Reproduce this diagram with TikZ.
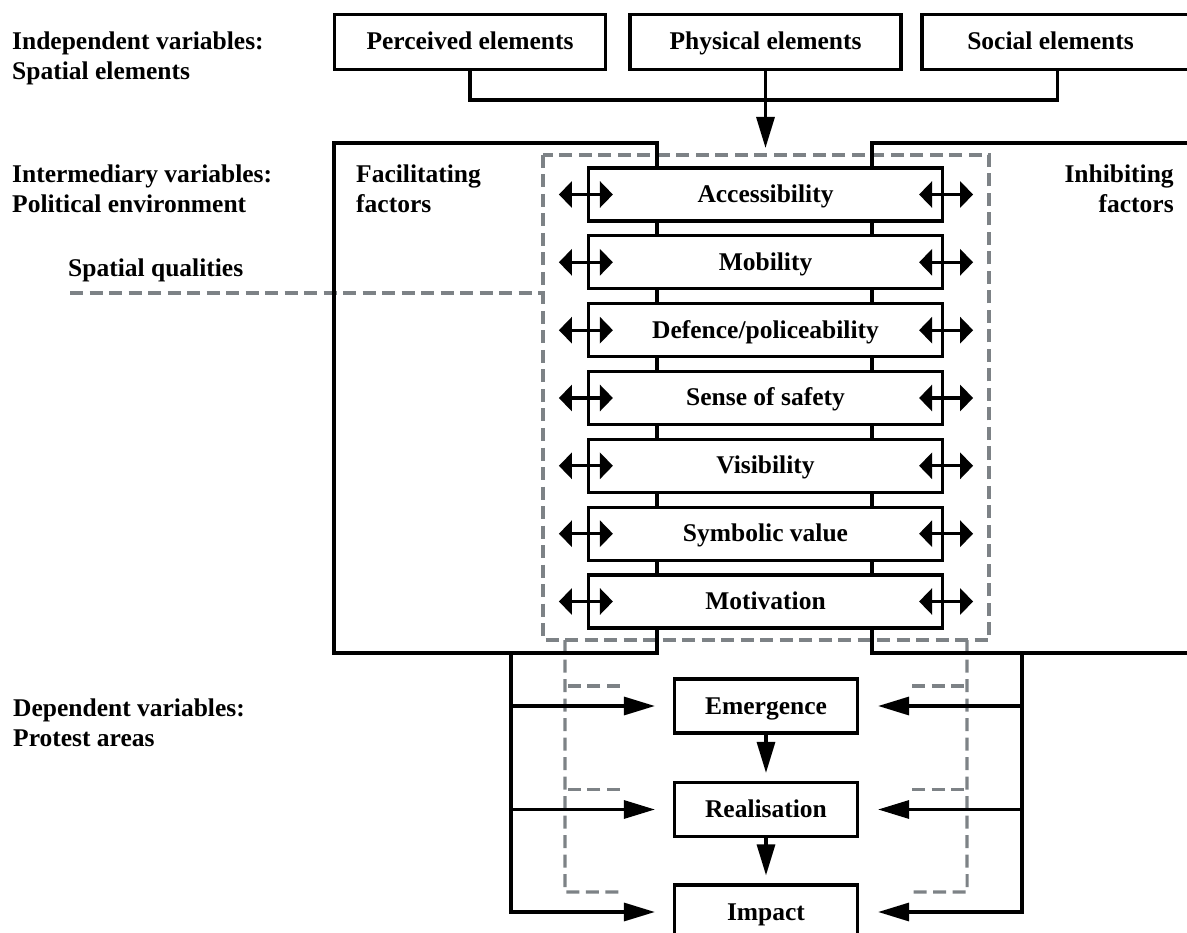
\documentclass[tikz,border=0pt]{standalone}
\usepackage{fontspec}
\setmainfont{Liberation Serif}
\usetikzlibrary{arrows.meta,calc}
\definecolor{dgray}{RGB}{125,130,134}
\begin{document}
\begin{tikzpicture}[x=1pt,y=-1pt,
  every node/.style={font=\fontsize{25.5}{30}\selectfont\bfseries},
  blk/.style={line width=3.2pt, draw=black},
  box/.style={draw, line width=3.2pt, fill=white, inner sep=0pt, text height=18pt, text depth=2pt},
  topbox/.style={box, minimum width=271pt, minimum height=55pt},
  qbox/.style={box, minimum width=354pt, minimum height=53pt},
  pbox/.style={box, minimum width=183pt, minimum height=54pt},
  gdash/.style={draw=dgray, line width=3.2pt, dash pattern=on 13pt off 6.5pt},
  bigtip/.style={-{Triangle[length=31pt,width=18pt]}},
  dbl/.style={{Triangle[length=13pt,width=26pt]}-{Triangle[length=13pt,width=26pt]}, line width=3.2pt},
  lab/.style={anchor=base west, inner sep=0pt}
]
\useasboundingbox (0,0) rectangle (1187,933);

% ---------- side labels ----------
\node[lab] (indep) at (12,50) {\vtop{\hbox{Independent variables:}\hbox{Spatial elements}}};
\node[lab] (inter) at (12,183) {\vtop{\hbox{Intermediary variables:}\hbox{Political environment}}};
\node[lab] (sq) at (68,277) {Spatial qualities};
\node[lab] (dep) at (13,716) {\vtop{\hbox{Dependent variables:}\hbox{Protest areas}}};
\node[lab] (facil) at (356,183) {\vtop{\hbox{Facilitating}\hbox{factors}}};
\node[lab] (inhib) at (1173,183) {\vtop{\hbox to 0pt{\hss Inhibiting}\hbox to 0pt{\hss factors}}};

% ---------- coordinates ----------
\coordinate (hl) at (0,100);
\coordinate (topTip) at (0,148);
\coordinate (dTL) at (543,155);
\coordinate (dBR) at (989,640);
\coordinate (sqL) at (70,293);
\coordinate (fTR) at (657,143);
\coordinate (fTL) at (334,143);
\coordinate (fBL) at (334,653);
\coordinate (fBR) at (657,653);
\coordinate (iTL) at (872,143);
\coordinate (iTR) at (1200,143);
\coordinate (iBR) at (1200,653);
\coordinate (iBL) at (872,653);
\coordinate (dl) at (565,640);
\coordinate (dr) at (967,640);
\coordinate (lv) at (511,653);
\coordinate (rv) at (1022,653);

% ---------- bottom boxes (positions needed for dashed stubs) ----------
\node[pbox] (emer) at (766,706) {Emergence};
\node[pbox] (real) at (766,809.5) {Realisation};
\node[pbox] (imp) at (766,912) {Impact};

% ---------- grey dashed lines ----------
\draw[gdash] (dTL) rectangle (dBR);
\draw[gdash] (sqL) -- (sqL -| dTL);
\draw[gdash] ($(emer.west)+(-53,-20)$) -- ($(emer.west)+(-108,-20)$);
\draw[gdash] ($(real.west)+(-53,-20)$) -- ($(real.west)+(-108,-20)$);
\draw[gdash] (dl) -- ($(imp.west)+(-108,-20)$) -- ($(imp.west)+(-53,-20)$);
\draw[gdash] ($(emer.east)+(53,-20)$) -- ($(emer.east)+(108,-20)$);
\draw[gdash] ($(real.east)+(53,-20)$) -- ($(real.east)+(108,-20)$);
\draw[gdash] (dr) -- ($(imp.east)+(108,-20)$) -- ($(imp.east)+(53,-20)$);

% ---------- top boxes ----------
\node[topbox] (perc) at (470,42) {Perceived elements};
\node[topbox] (phys) at (765.5,42) {Physical elements};
\node[topbox] (soc) at (1057.5,42) {Social elements\hspace*{14pt}};

\draw[blk] (perc.south) -- (perc.south |- hl) -- (soc.south |- hl) -- (soc.south);
\draw[blk,bigtip] (phys.south) -- (phys.south |- topTip);

% ---------- spatial qualities ----------
\node[qbox] (acc) at (765.5,194.5) {Accessibility};
\node[qbox] (mob) at (765.5,262.3) {Mobility};
\node[qbox] (def) at (765.5,330.2) {Defence/policeability};
\node[qbox] (sense) at (765.5,398.0) {Sense of safety};
\node[qbox] (vis) at (765.5,465.8) {Visibility};
\node[qbox] (sym) at (765.5,533.7) {Symbolic value};
\node[qbox] (mot) at (765.5,601.5) {Motivation};

% big facilitating / inhibiting frames
\draw[blk] (acc.north -| fTR) -- (fTR) -- (fTL) -- (fBL) -- (fBR) -- (mot.south -| fBR);
\draw[blk] (acc.north -| iTL) -- (iTL) -- (iTR);
\draw[blk] (iBR) -- (iBL) -- (mot.south -| iBL);
\foreach \a/\b in {acc/mob,mob/def,def/sense,sense/vis,vis/sym,sym/mot}{
  \draw[blk] (\a.south -| fTR) -- (\b.north -| fTR);
  \draw[blk] (\a.south -| iTL) -- (\b.north -| iTL);
}

% double arrows
\foreach \n in {acc,mob,def,sense,vis,sym,mot}{
  \draw[dbl] ($(\n.west)+(-28,0)$) -- ($(\n.west)+(26,0)$);
  \draw[dbl] ($(\n.east)+(-25,0)$) -- ($(\n.east)+(29,0)$);
}

% ---------- bottom connectors ----------
\draw[blk,bigtip,shorten >=18pt] (lv) -- (lv |- imp) -- (imp.west);
\draw[blk,bigtip,shorten >=18pt] (lv |- emer) -- (emer.west);
\draw[blk,bigtip,shorten >=18pt] (lv |- real) -- (real.west);
\draw[blk,bigtip,shorten >=19pt] (rv) -- (rv |- imp) -- (imp.east);
\draw[blk,bigtip,shorten >=19pt] (rv |- emer) -- (emer.east);
\draw[blk,bigtip,shorten >=19pt] (rv |- real) -- (real.east);
\draw[blk,bigtip,shorten >=8pt] (emer.south) -- (real.north);
\draw[blk,bigtip,shorten >=8pt] (real.south) -- (imp.north);
\end{tikzpicture}
\end{document}
